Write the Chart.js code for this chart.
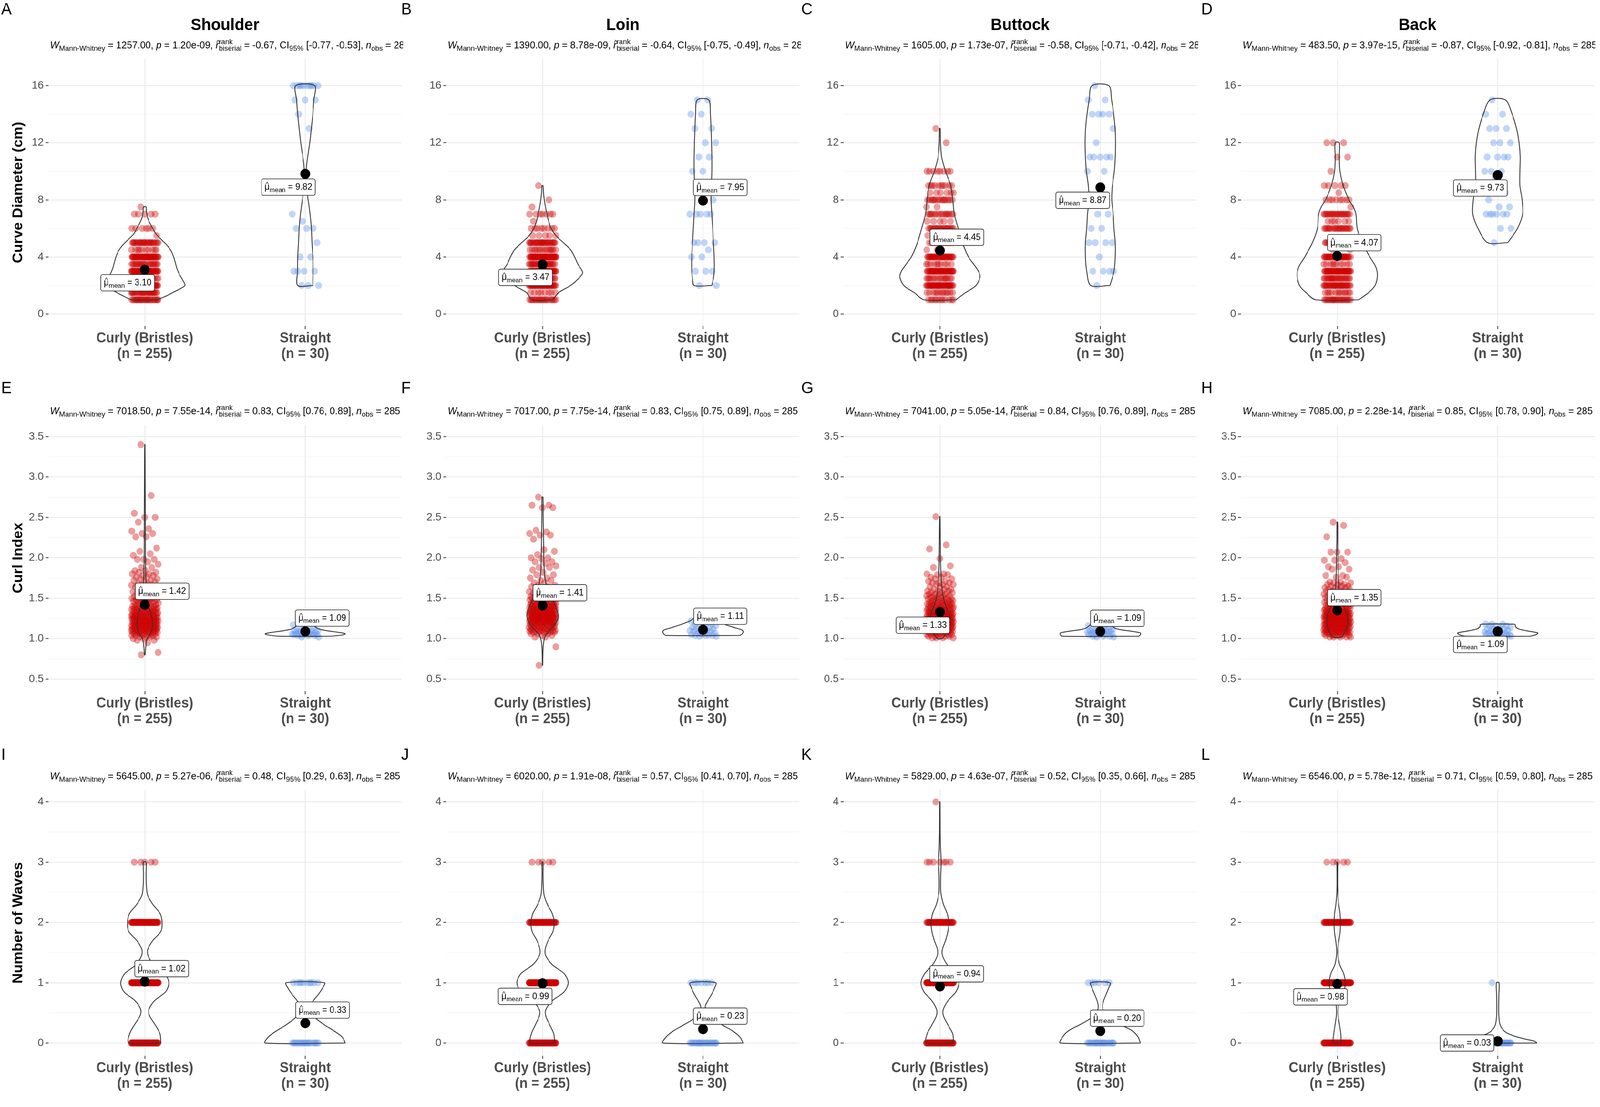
<!DOCTYPE html>
<html>
<head>
<meta charset="utf-8">
<script src="https://cdn.jsdelivr.net/npm/chart.js@4.4.1/dist/chart.umd.min.js"></script>
<style>
  html, body { margin: 0; padding: 0; background: #fff; overflow: hidden; }
  #wrap { position: relative; width: 4252px; height: 2835px; overflow: hidden; background: #fff; transform-origin: 0 0; }
  canvas { position: absolute; }
</style>
</head>
<body>
<div id="wrap"></div>
<script>
const FONT = "'Liberation Sans', Arial, sans-serif";

// ---- labels ----
const panelLetters = ['A', 'B', 'C', 'D', 'E', 'F', 'G', 'H', 'I', 'J', 'K', 'L'];
const bodyParts = ['Shoulder', 'Loin', 'Buttock', 'Back'];
const yTitles = ['Curve Diameter (cm)', 'Curl Index', 'Number of Waves'];
const groupLabels = [['Curly (Bristles)', '(n = 255)'], ['Straight', '(n = 30)']];
const yMajorTicks = [[0, 4, 8, 12, 16], [0.5, 1, 1.5, 2, 2.5, 3, 3.5], [0, 1, 2, 3, 4]];
const yMinorTicks = [[2, 6, 10, 14], [0.75, 1.25, 1.75, 2.25, 2.75, 3.25], [0.5, 1.5, 2.5, 3.5]];
const yTickLabels = [['0', '4', '8', '12', '16'], ['0.5', '1.0', '1.5', '2.0', '2.5', '3.0', '3.5'], ['0', '1', '2', '3', '4']];

// ---- test statistics (subtitles) ----
const wMannWhitney = ['1257.00', '1390.00', '1605.00', '483.50', '7018.50', '7017.00', '7041.00', '7085.00', '5645.00', '6020.00', '5829.00', '6546.00'];
const pValues = ['1.20e-09', '8.78e-09', '1.73e-07', '3.97e-15', '7.55e-14', '7.75e-14', '5.05e-14', '2.28e-14', '5.27e-06', '1.91e-08', '4.63e-07', '5.78e-12'];
const rBiserial = ['-0.67', '-0.64', '-0.58', '-0.87', '0.83', '0.83', '0.84', '0.85', '0.48', '0.57', '0.52', '0.71'];
const ciLow = ['-0.77', '-0.75', '-0.71', '-0.92', '0.76', '0.75', '0.76', '0.78', '0.29', '0.41', '0.35', '0.59'];
const ciHigh = ['-0.53', '-0.49', '-0.42', '-0.81', '0.89', '0.89', '0.89', '0.90', '0.63', '0.70', '0.66', '0.80'];
const nObs = '285';

// ---- group means ----
const meanCurly = [3.10, 3.47, 4.45, 4.07, 1.42, 1.41, 1.33, 1.35, 1.02, 0.99, 0.94, 0.98];
const meanStraight = [9.82, 7.95, 8.87, 9.73, 1.09, 1.11, 1.09, 1.09, 0.33, 0.23, 0.20, 0.03];

// ---- observations: [value, count] ----
const ptsCurlyA = [[1,25],[1.5,25],[2,40],[2.5,12],[3,45],[3.5,20],[4,40],[4.5,10],[5,25],[5.5,1],[6,6],[7,5],[7.5,1]];
const ptsStraightA = [[2,3],[3,4],[4,2],[5,1],[6,3],[6.5,1],[7,1],[13,1],[14,1],[15,3],[16,10]];
const ptsCurlyB = [[1,20],[1.5,8],[2,35],[2.5,20],[3,37],[3.5,25],[4,45],[4.5,14],[5,27],[5.5,5],[6,8],[6.5,1],[7,7],[7.5,1],[8,1],[9,1]];
const ptsStraightB = [[2,2],[3,3],[4,2],[4.5,1],[5,4],[7,5],[8,1],[10,2],[11,2],[12,2],[13,2],[14,2],[15,2]];
const ptsCurlyC = [[1,12],[1.5,12],[2,37],[2.5,15],[3,39],[3.5,10],[4,32],[4.5,2],[5,12],[5.5,1],[6,20],[6.5,5],[7,15],[7.5,2],[8,15],[8.5,6],[9,10],[10,8],[12,1],[13,1]];
const ptsStraightC = [[2,1],[3,4],[4,1],[5,4],[6,2],[7,2],[10,2],[11,5],[12,1],[13,1],[14,4],[15,2],[16,1]];
const ptsCurlyD = [[1,22],[1.5,12],[2,29],[2.5,22],[3,38],[3.5,10],[4,32],[4.5,2],[5,20],[6,20],[6.5,6],[7,21],[7.5,1],[8,8],[8.5,1],[9,5],[10,1],[11,2],[12,3]];
const ptsStraightD = [[5,1],[6,2],[7,6],[7.5,2],[8,1],[8.5,1],[9.5,1],[10,3],[11,4],[12,3],[13,3],[14,2],[15,1]];

const ptsCurlyE = [[0.80,1],[0.83,1],[0.95,1],[0.98,2],[1.00,2],[1.02,4],[1.04,5],[1.06,6],[1.08,8],[1.10,10],[1.12,10],[1.14,10],[1.16,10],[1.18,10],[1.20,10],[1.22,10],[1.24,10],[1.26,10],[1.28,10],[1.30,8],[1.32,8],[1.34,7],[1.36,7],[1.38,7],[1.40,5],[1.42,5],[1.44,4],[1.46,4],[1.48,5],[1.50,5],[1.52,3],[1.54,3],[1.56,3],[1.58,2],[1.60,2],[1.62,2],[1.64,2],[1.66,2],[1.68,2],[1.70,2],[1.72,2],[1.74,2],[1.76,2],[1.78,2],[1.80,2],[1.82,2],[1.84,2],[1.88,2],[1.92,1],[1.95,1],[1.98,3],[2.03,1],[2.05,1],[2.08,1],[2.12,1],[2.26,2],[2.30,2],[2.33,1],[2.36,1],[2.44,1],[2.50,2],[2.55,1],[2.77,1],[3.40,1]];
const ptsStraightE = [[1.02,2],[1.04,3],[1.05,5],[1.06,5],[1.08,4],[1.10,4],[1.12,2],[1.14,2],[1.17,1],[1.19,1],[1.24,1]];
const ptsCurlyF = [[0.67,1],[0.90,1],[1.02,2],[1.04,2],[1.06,3],[1.08,4],[1.09,4],[1.10,6],[1.12,6],[1.14,7],[1.16,8],[1.18,8],[1.20,10],[1.22,11],[1.24,12],[1.26,12],[1.28,12],[1.30,12],[1.32,11],[1.34,10],[1.36,10],[1.38,9],[1.40,9],[1.42,8],[1.44,7],[1.46,6],[1.48,5],[1.50,5],[1.52,5],[1.54,4],[1.56,3],[1.58,3],[1.61,2],[1.64,2],[1.66,2],[1.69,2],[1.72,2],[1.75,2],[1.79,2],[1.82,1],[1.85,1],[1.88,2],[1.90,1],[1.93,1],[1.95,2],[1.99,1],[2.00,2],[2.04,1],[2.08,1],[2.10,1],[2.23,1],[2.28,2],[2.30,1],[2.32,1],[2.34,1],[2.62,2],[2.65,2],[2.75,1]];
const ptsStraightF = [[1.03,2],[1.04,3],[1.05,3],[1.07,3],[1.09,3],[1.10,2],[1.12,3],[1.14,3],[1.16,2],[1.18,2],[1.22,2],[1.25,2]];
const ptsCurlyG = [[1.01,4],[1.03,5],[1.05,6],[1.07,7],[1.09,8],[1.11,10],[1.13,11],[1.15,11],[1.17,11],[1.19,12],[1.21,12],[1.23,11],[1.25,11],[1.27,11],[1.29,10],[1.31,9],[1.33,9],[1.35,8],[1.37,7],[1.39,7],[1.41,7],[1.43,6],[1.45,6],[1.47,5],[1.49,5],[1.51,4],[1.53,4],[1.55,4],[1.57,3],[1.59,3],[1.61,3],[1.64,3],[1.67,3],[1.69,3],[1.71,2],[1.74,2],[1.76,2],[1.79,2],[1.80,2],[1.88,1],[1.90,1],[1.99,1],[2.11,1],[2.16,1],[2.51,1]];
const ptsStraightG = [[1.02,2],[1.03,3],[1.05,4],[1.06,3],[1.08,4],[1.09,3],[1.10,3],[1.12,3],[1.14,2],[1.16,2],[1.19,1]];
const ptsCurlyH = [[1.02,5],[1.04,6],[1.06,6],[1.08,7],[1.09,8],[1.11,9],[1.13,10],[1.15,10],[1.17,11],[1.19,11],[1.21,11],[1.23,11],[1.25,11],[1.27,11],[1.29,11],[1.31,10],[1.33,9],[1.35,8],[1.37,7],[1.39,7],[1.41,6],[1.43,6],[1.45,5],[1.47,5],[1.49,4],[1.51,4],[1.53,3],[1.55,3],[1.57,3],[1.59,3],[1.61,3],[1.63,3],[1.65,3],[1.67,3],[1.69,2],[1.70,2],[1.76,2],[1.78,2],[1.86,2],[1.89,2],[1.94,1],[1.97,2],[1.99,1],[2.07,3],[2.26,1],[2.40,1],[2.44,1]];
const ptsStraightH = [[1.03,3],[1.04,3],[1.05,4],[1.07,3],[1.08,3],[1.10,3],[1.12,3],[1.14,2],[1.16,3],[1.18,3]];

const ptsCurlyI = [[0,75],[1,106],[2,69],[3,5]];
const ptsStraightI = [[0,20],[1,10]];
const ptsCurlyJ = [[0,66],[1,130],[2,54],[3,5]];
const ptsStraightJ = [[0,23],[1,7]];
const ptsCurlyK = [[0,82],[1,114],[2,51],[3,7],[4,1]];
const ptsStraightK = [[0,24],[1,6]];
const ptsCurlyL = [[0,70],[1,125],[2,55],[3,5]];
const ptsStraightL = [[0,29],[1,1]];

// ---- violin outlines: [value, half width in category units] ----
const vioCurlyA = [[1.0,0.08],[1.3,0.14],[1.6,0.19],[2.0,0.25],[2.4,0.235],[2.8,0.215],[3.2,0.2],[3.6,0.19],[4.0,0.18],[4.4,0.165],[4.8,0.14],[5.2,0.105],[5.6,0.07],[6.0,0.05],[6.4,0.03],[6.8,0.016],[7.2,0.01],[7.5,0.008]];
const vioStraightA = [[2,0.047],[3,0.048],[4,0.047],[5,0.042],[6,0.038],[7,0.03],[8,0.018],[8.5,0.012],[9,0.008],[9.5,0.006],[10,0.006],[10.5,0.009],[11,0.015],[12,0.028],[13,0.038],[14,0.047],[15,0.054],[16,0.059]];
const vioCurlyB = [[1.0,0.065],[1.5,0.1],[2.0,0.175],[2.5,0.225],[2.9,0.25],[3.5,0.22],[4.0,0.2],[4.5,0.175],[5.0,0.13],[5.5,0.083],[6.0,0.054],[6.5,0.038],[7.0,0.027],[7.5,0.018],[8.0,0.011],[8.5,0.006],[9.0,0.003]];
const vioStraightB = [[2,0.055],[2.5,0.065],[3,0.07],[4,0.07],[5,0.065],[6,0.06],[7,0.055],[8,0.05],[9,0.052],[10,0.055],[11,0.055],[12,0.053],[13,0.05],[14,0.046],[15,0.036]];
const vioCurlyC = [[1,0.1],[1.5,0.16],[2,0.225],[2.6,0.25],[3,0.24],[3.5,0.21],[4,0.178],[5,0.14],[6,0.114],[7,0.09],[8,0.08],[9,0.067],[10,0.035],[11,0.011],[12,0.004],[13,0.002]];
const vioStraightC = [[2,0.06],[3,0.085],[4,0.093],[5,0.093],[6,0.085],[7,0.08],[8,0.071],[9,0.075],[10,0.087],[11,0.093],[12,0.095],[13,0.092],[14,0.083],[15,0.07],[16,0.053]];
const vioCurlyD = [[1,0.135],[1.5,0.195],[2,0.235],[2.7,0.25],[3.3,0.24],[4,0.203],[5,0.155],[6,0.124],[7,0.116],[7.5,0.1],[8,0.073],[9,0.037],[10,0.017],[11,0.013],[12,0.013]];
const vioStraightD = [[5,0.063],[6,0.123],[7,0.155],[8,0.152],[9,0.138],[10,0.138],[11,0.14],[12,0.133],[13,0.117],[14,0.09],[15,0.048]];
const vioCurlyE = [[0.80,0.002],[0.9,0.006],[1.0,0.014],[1.05,0.03],[1.1,0.044],[1.2,0.048],[1.3,0.04],[1.4,0.025],[1.5,0.014],[1.6,0.009],[1.8,0.006],[2.0,0.004],[2.5,0.003],[3.0,0.002],[3.4,0.001]];
const vioStraightE = [[1.03,0.16],[1.045,0.23],[1.06,0.25],[1.08,0.2],[1.10,0.13],[1.12,0.085],[1.15,0.06],[1.18,0.045],[1.21,0.03],[1.24,0.02]];
const vioCurlyF = [[0.67,0.001],[0.8,0.002],[0.9,0.004],[1.0,0.011],[1.05,0.022],[1.1,0.044],[1.2,0.085],[1.28,0.098],[1.35,0.09],[1.45,0.07],[1.55,0.045],[1.65,0.025],[1.8,0.012],[2.0,0.008],[2.3,0.006],[2.5,0.004],[2.75,0.003]];
const vioStraightF = [[1.04,0.23],[1.06,0.245],[1.09,0.25],[1.11,0.24],[1.14,0.19],[1.18,0.13],[1.22,0.08],[1.25,0.055]];
const vioCurlyG = [[1.0,0.015],[1.05,0.035],[1.1,0.052],[1.18,0.063],[1.25,0.062],[1.3,0.058],[1.4,0.037],[1.5,0.022],[1.6,0.014],[1.8,0.007],[2.0,0.004],[2.2,0.003],[2.51,0.001]];
const vioStraightG = [[1.03,0.24],[1.05,0.25],[1.07,0.25],[1.09,0.2],[1.11,0.13],[1.13,0.09],[1.16,0.07],[1.19,0.05]];
const vioCurlyH = [[1.02,0.029],[1.1,0.052],[1.2,0.067],[1.3,0.06],[1.4,0.04],[1.5,0.02],[1.6,0.012],[1.8,0.007],[2.0,0.005],[2.2,0.003],[2.44,0.002]];
const vioStraightH = [[1.03,0.2],[1.05,0.24],[1.07,0.25],[1.09,0.2],[1.12,0.13],[1.15,0.11],[1.17,0.11],[1.18,0.1]];
const vioCurlyI = [[0,0.1],[0.15,0.095],[0.3,0.065],[0.45,0.03],[0.55,0.025],[0.7,0.06],[0.85,0.13],[1.0,0.15],[1.15,0.125],[1.3,0.055],[1.45,0.02],[1.55,0.018],[1.7,0.05],[1.85,0.1],[2.0,0.108],[2.15,0.095],[2.3,0.05],[2.45,0.018],[2.6,0.01],[2.8,0.008],[3.0,0.008]];
const vioStraightI = [[0,0.25],[0.1,0.23],[0.2,0.18],[0.3,0.12],[0.4,0.07],[0.5,0.035],[0.6,0.03],[0.7,0.05],[0.8,0.08],[0.9,0.105],[1.0,0.12]];
const vioCurlyJ = [[0,0.075],[0.15,0.07],[0.3,0.045],[0.45,0.02],[0.55,0.02],[0.7,0.06],[0.85,0.135],[1.0,0.16],[1.15,0.135],[1.3,0.06],[1.45,0.02],[1.55,0.016],[1.7,0.035],[1.85,0.065],[2.0,0.072],[2.15,0.06],[2.3,0.03],[2.45,0.01],[2.6,0.005],[2.8,0.003],[3.0,0.003]];
const vioStraightJ = [[0,0.25],[0.1,0.23],[0.2,0.185],[0.3,0.12],[0.4,0.06],[0.5,0.025],[0.6,0.014],[0.7,0.03],[0.8,0.052],[0.9,0.07],[1.0,0.08]];
const vioCurlyK = [[0,0.085],[0.15,0.08],[0.3,0.05],[0.45,0.022],[0.55,0.02],[0.7,0.05],[0.85,0.1],[1.0,0.118],[1.15,0.095],[1.3,0.045],[1.45,0.016],[1.55,0.015],[1.7,0.035],[1.85,0.05],[2.0,0.055],[2.15,0.045],[2.3,0.022],[2.5,0.006],[2.75,0.005],[3.0,0.008],[3.25,0.004],[3.5,0.002],[4.0,0.001]];
const vioStraightK = [[0,0.25],[0.1,0.235],[0.2,0.2],[0.3,0.13],[0.4,0.065],[0.5,0.025],[0.6,0.013],[0.7,0.02],[0.8,0.035],[0.9,0.05],[1.0,0.06]];
const vioCurlyL = [[0,0.024],[0.15,0.022],[0.3,0.014],[0.45,0.006],[0.55,0.005],[0.7,0.012],[0.85,0.04],[1.0,0.05],[1.15,0.04],[1.3,0.015],[1.45,0.005],[1.55,0.004],[1.7,0.01],[1.85,0.018],[2.0,0.02],[2.15,0.017],[2.3,0.009],[2.45,0.004],[2.6,0.002],[2.8,0.002],[3.0,0.002]];
const vioStraightL = [[0,0.245],[0.03,0.23],[0.06,0.18],[0.1,0.12],[0.15,0.07],[0.2,0.04],[0.3,0.015],[0.45,0.007],[0.6,0.006],[0.8,0.007],[1.0,0.008]];

const curlyPts = [ptsCurlyA, ptsCurlyB, ptsCurlyC, ptsCurlyD, ptsCurlyE, ptsCurlyF, ptsCurlyG, ptsCurlyH, ptsCurlyI, ptsCurlyJ, ptsCurlyK, ptsCurlyL];
const straightPts = [ptsStraightA, ptsStraightB, ptsStraightC, ptsStraightD, ptsStraightE, ptsStraightF, ptsStraightG, ptsStraightH, ptsStraightI, ptsStraightJ, ptsStraightK, ptsStraightL];
const curlyVio = [vioCurlyA, vioCurlyB, vioCurlyC, vioCurlyD, vioCurlyE, vioCurlyF, vioCurlyG, vioCurlyH, vioCurlyI, vioCurlyJ, vioCurlyK, vioCurlyL];
const straightVio = [vioStraightA, vioStraightB, vioStraightC, vioStraightD, vioStraightE, vioStraightF, vioStraightG, vioStraightH, vioStraightI, vioStraightJ, vioStraightK, vioStraightL];

// ---- layout (pixels / axis units), kept apart from the data ----
const colLeft = [0, 1057, 2113, 3169];
const rowTop = [0, 970, 1905];
const rowH = [970, 935, 930];
const panelTop = [151, 118, 118];
const xAxisH = [135, 135, 131];
const letterBase = [37, 37, 41];
const yRange = [[-0.84, 17.87], [0.351, 3.644], [-0.213, 4.198]];
// where ggrepel put each mean label (box centre, axis units)
const labelAt = [
  [[0.893, 2.19], [1.895, 8.89]], [[0.894, 2.57], [2.108, 8.87]], [[1.106, 5.38], [1.89, 7.97]], [[1.106, 5.0], [1.892, 8.83]],
  [[1.108, 1.586], [2.106, 1.255]], [[1.108, 1.567], [2.108, 1.277]], [[0.894, 1.166], [2.106, 1.252]], [[1.106, 1.507], [1.892, 0.928]],
  [[1.105, 1.234], [2.108, 0.546]], [[0.892, 0.774], [2.108, 0.445]], [[1.105, 1.148], [2.105, 0.411]], [[0.895, 0.766], [1.809, 0.0]]
];

const CURLY_COL = 'rgba(204, 0, 0, 0.38)';
const STRAIGHT_COL = 'rgba(100, 149, 237, 0.40)';
const JITTER = 0.085;

// the whole 4252 x 2835 figure is fitted to whatever viewport the browser reports
const wrap = document.getElementById('wrap');
const vw = document.documentElement.clientWidth || window.innerWidth || 4252;
const vh = document.documentElement.clientHeight || window.innerHeight || 2835;
wrap.style.transform = 'scale(' + (vw / 4252) + ',' + (vh / 2835) + ')';

function jitterData(levels, c) {
  const out = [];
  let i = 0;
  levels.forEach(([v, n]) => {
    for (let j = 0; j < n; j++, i++) {
      const u = (i * 0.6180339887 + 0.37) % 1;
      out.push({ x: c + (u - 0.5) * 2 * JITTER, y: v });
    }
  });
  return out;
}

function violinData(prof, c) {
  const right = prof.map(([y, w]) => ({ x: c + w, y: y }));
  const left = prof.slice().reverse().map(([y, w]) => ({ x: c - w, y: y }));
  return right.concat(left, [right[0]]);
}

function fontOf(size, italic) {
  return (italic ? 'italic ' : '') + size + 'px ' + FONT;
}

// plotmath-like text: parts {t, it, k:'sub'|'stack', hat, sup, sub}
function drawRich(ctx, parts, startX, base, big, small) {
  const widths = parts.map(p => {
    if (p.k === 'stack') {
      ctx.font = fontOf(small);
      return Math.max(ctx.measureText(p.sup).width, ctx.measureText(p.sub).width);
    }
    ctx.font = fontOf(p.k === 'sub' ? small : big, p.it);
    return ctx.measureText(p.t).width;
  });
  const total = widths.reduce((a, b) => a + b, 0);
  let x = startX;
  ctx.textAlign = 'left';
  ctx.textBaseline = 'alphabetic';
  parts.forEach((p, i) => {
    if (p.k === 'stack') {
      ctx.font = fontOf(small);
      ctx.fillText(p.sup, x, base - big * 0.45);
      ctx.fillText(p.sub, x, base + small * 0.33);
    } else if (p.k === 'sub') {
      ctx.font = fontOf(small);
      ctx.fillText(p.t, x, base + small * 0.33);
    } else {
      ctx.font = fontOf(big, p.it);
      ctx.fillText(p.t, x, base);
      if (p.hat) {
        ctx.font = fontOf(small);
        const hw = ctx.measureText('^').width;
        ctx.fillText('^', x + widths[i] / 2 - hw / 2 + (p.it ? 2 : 0), base - big * 0.34);
      }
    }
    x += widths[i];
  });
  return total;
}

function subtitleParts(k) {
  return [
    { t: 'W', it: true }, { t: 'Mann-Whitney', k: 'sub' },
    { t: ' = ' + wMannWhitney[k] + ', ' }, { t: 'p', it: true }, { t: ' = ' + pValues[k] + ', ' },
    { t: 'r', it: true, hat: true }, { k: 'stack', sup: 'rank', sub: 'biserial' },
    { t: ' = ' + rBiserial[k] + ', CI' }, { t: '95%', k: 'sub' },
    { t: ' [' + ciLow[k] + ', ' + ciHigh[k] + '], ' }, { t: 'n', it: true }, { t: 'obs', k: 'sub' },
    { t: ' = ' + nObs }
  ];
}

function textPlugin(k) {
  const r = Math.floor(k / 4), c = k % 4;
  return {
    id: 'panelText' + k,
    afterDatasetsDraw(chart) {
      const ctx = chart.ctx, xs = chart.scales.x, ys = chart.scales.y;
      const means = [meanCurly[k], meanStraight[k]];
      ctx.save();
      labelAt[k].forEach(([lx, ly], g) => {
        const parts = [{ t: '\u03BC', hat: true }, { t: 'mean', k: 'sub' }, { t: ' = ' + means[g].toFixed(2) }];
        ctx.globalAlpha = 0;
        const w = drawRich(ctx, parts, 0, -100, 23, 17);
        ctx.globalAlpha = 1;
        const bw = w + 16, bh = 42;
        const cx = xs.getPixelForValue(lx), cy = ys.getPixelForValue(ly);
        ctx.beginPath();
        ctx.roundRect(cx - bw / 2, cy - bh / 2, bw, bh, 5);
        ctx.fillStyle = '#fff';
        ctx.fill();
        ctx.lineWidth = 1.6;
        ctx.strokeStyle = '#222';
        ctx.stroke();
        ctx.fillStyle = '#000';
        drawRich(ctx, parts, cx - w / 2, cy + 7, 23, 17);
      });
      ctx.restore();
    },
    afterDraw(chart) {
      const ctx = chart.ctx, a = chart.chartArea;
      ctx.save();
      ctx.fillStyle = '#000';
      ctx.textAlign = 'left';
      ctx.textBaseline = 'alphabetic';
      ctx.font = '42px ' + FONT;
      ctx.fillText(panelLetters[k], c * 1063 + 3 - colLeft[c], letterBase[r]);
      if (r === 0) {
        ctx.font = 'bold 42px ' + FONT;
        ctx.textAlign = 'center';
        ctx.fillText(bodyParts[c], (a.left + a.right) / 2, 77);
      }
      ctx.beginPath();
      ctx.rect(0, 0, a.right + 4, chart.height);
      ctx.clip();
      const parts = subtitleParts(k);
      // measure first, then centre (but never start left of the panel)
      ctx.globalAlpha = 0;
      const tw = drawRich(ctx, parts, 0, -100, 25.5, 19);
      ctx.globalAlpha = 1;
      const sx = Math.max(a.left + 4, (a.left + a.right) / 2 - tw / 2);
      drawRich(ctx, parts, sx, a.top - 27, 25.5, 19);
      ctx.restore();
    }
  };
}

function makePanel(k) {
  const r = Math.floor(k / 4), c = k % 4;
  const cv = document.createElement('canvas');
  cv.width = 1080;
  cv.height = rowH[r];
  cv.style.left = colLeft[c] + 'px';
  cv.style.top = rowTop[r] + 'px';
  cv.style.width = '1080px';
  cv.style.height = rowH[r] + 'px';
  wrap.appendChild(cv);

  const major = yMajorTicks[r];
  const allTicks = major.concat(yMinorTicks[r]).sort((a, b) => a - b);
  const isMajor = v => major.indexOf(v) >= 0;

  new Chart(cv, {
    type: 'scatter',
    data: {
      datasets: [
        { data: [{ x: 1, y: meanCurly[k] }, { x: 2, y: meanStraight[k] }], backgroundColor: '#000', pointRadius: 13, borderWidth: 0 },
        { data: violinData(curlyVio[k], 1), showLine: true, pointRadius: 0, borderColor: '#333', borderWidth: 2.2, tension: 0.3, fill: false },
        { data: violinData(straightVio[k], 2), showLine: true, pointRadius: 0, borderColor: '#333', borderWidth: 2.2, tension: 0.3, fill: false },
        { data: jitterData(curlyPts[k], 1), backgroundColor: CURLY_COL, pointRadius: 9, borderWidth: 0 },
        { data: jitterData(straightPts[k], 2), backgroundColor: STRAIGHT_COL, pointRadius: 9, borderWidth: 0 }
      ]
    },
    options: {
      responsive: false,
      animation: false,
      devicePixelRatio: 1,
      events: [],
      layout: { padding: { top: panelTop[r], right: 10, left: 0, bottom: 0 } },
      plugins: { legend: { display: false }, tooltip: { enabled: false } },
      scales: {
        x: {
          type: 'linear', min: 0.4, max: 2.6,
          afterBuildTicks: s => { s.ticks = [{ value: 1 }, { value: 2 }]; },
          afterFit: s => { s.height = xAxisH[r]; },
          ticks: {
            autoSkip: false, maxRotation: 0, minRotation: 0, padding: 4, color: '#4D4D4D',
            font: { family: FONT, size: 36, weight: 'bold', lineHeight: 1.12 },
            callback: v => groupLabels[Math.round(v) - 1]
          },
          grid: { color: '#EBEBEB', lineWidth: 2.4, drawTicks: true, tickLength: 8, tickColor: '#333', tickWidth: 2 },
          border: { display: false }
        },
        y: {
          type: 'linear', min: yRange[r][0], max: yRange[r][1],
          afterBuildTicks: s => { s.ticks = allTicks.map(v => ({ value: v })); },
          afterFit: s => { s.width = 129; },
          ticks: {
            autoSkip: false, padding: 5, color: '#4D4D4D', font: { family: FONT, size: 28.5 },
            callback: v => { const i = major.indexOf(v); return i >= 0 ? yTickLabels[r][i] : ''; }
          },
          grid: {
            color: ctx => (ctx.tick && isMajor(ctx.tick.value)) ? '#EBEBEB' : '#F3F3F3',
            lineWidth: ctx => (ctx.tick && isMajor(ctx.tick.value)) ? 2.4 : 1.3,
            tickColor: ctx => (ctx.tick && isMajor(ctx.tick.value)) ? '#333' : 'rgba(0,0,0,0)',
            tickLength: 8, tickWidth: 2
          },
          border: { display: false },
          title: {
            display: c === 0, text: yTitles[r], color: '#000',
            font: { family: FONT, size: 37, weight: 'bold' }, padding: { top: 27, bottom: 0 }
          }
        }
      }
    },
    plugins: [textPlugin(k)]
  });
}

for (let k = 0; k < 12; k++) makePanel(k);
</script>
</body>
</html>
